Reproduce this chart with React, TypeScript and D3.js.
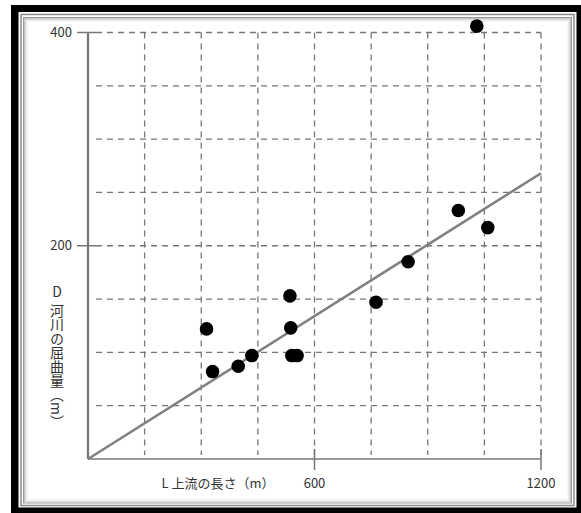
import React from "react";
import * as d3 from "d3";

// data
const lengthL = [314, 330, 398, 434, 535, 537, 540, 554, 763, 848, 981, 1059, 1030];
const meanderD = [122, 82, 87, 97, 153, 123, 97, 97, 147, 185, 233, 217, 406];
const fitEnd = [0, 0, 1200, 268];
const xTickLabels = [600, 1200];
const yTickLabels = [200, 400];
const xGrid = [150, 300, 450, 600, 750, 900, 1050, 1200];
const yGrid = [50, 100, 150, 200, 250, 300, 350, 400];

const W = 581;
const H = 513;
const font = "'Noto Sans CJK JP', 'Noto Sans', sans-serif";

export default function App() {
  const x = d3.scaleLinear().domain([0, 1200]).range([88, 541]);
  const y = d3.scaleLinear().domain([0, 400]).range([459, 32.5]);
  const points = lengthL.map((l, i) => ({ l, d: meanderD[i] }));
  const line = d3.line<[number, number]>()
    .x((d) => x(d[0]))
    .y((d) => y(d[1]));

  const grid = "#777";
  const txt = "#333";

  return (
    <svg
      width={W}
      height={H}
      style={{ position: "absolute", left: 0, top: 0, display: "block", background: "#fff" }}
    >
      {/* frame */}
      <rect x={11} y={5} width={580} height={520} fill="#000" />
      <rect x={18.5} y={12} width={558} height={495.5} fill="#fff" />
      <rect x={21} y={14.5} width={553} height={491} fill="none" stroke="#8a8a8a" strokeWidth={1.5} />
      <rect x={23.5} y={17.5} width={548} height={485.5} fill="#fff" stroke="#999" strokeWidth={1} />
      <rect x={24.5} y={18.5} width={546} height={483.5} fill="none" stroke="#c4c4c4" strokeWidth={1} />
      <rect x={25.5} y={19.5} width={544} height={481.5} fill="none" stroke="#dcdcdc" strokeWidth={1} />
      <rect x={26.5} y={20.5} width={542} height={479.5} fill="none" stroke="#ececec" strokeWidth={1} />
      <rect x={27.5} y={21.5} width={540} height={477.5} fill="none" stroke="#f6f6f6" strokeWidth={1} />

      {/* dashed grid */}
      <g stroke={grid} strokeWidth={1.3} strokeDasharray="6,5" fill="none">
        {yGrid.map((v) => (
          <line key={"h" + v} x1={x(0) + 8} x2={x(1200)} y1={y(v)} y2={y(v)} />
        ))}
        {xGrid.map((v) => (
          <line key={"v" + v} x1={x(v)} x2={x(v)} y1={y(400)} y2={y(0) - 4} />
        ))}
      </g>

      {/* axes */}
      <line x1={x(0)} x2={x(0)} y1={y(400)} y2={y(0)} stroke="#777" strokeWidth={2.2} />
      <line x1={x(0)} x2={x(1200)} y1={y(0)} y2={y(0)} stroke="#777" strokeWidth={1.6} />
      {yTickLabels.map((v) => (
        <g key={"yt" + v}>
          <line x1={x(0) - 11} x2={x(0) + 8} y1={y(v)} y2={y(v)} stroke="#777" strokeWidth={1.5} />
          <text x={72} y={y(v)} dy="0.35em" textAnchor="end" fontSize={13} fill={txt} fontFamily={font}>
            {v}
          </text>
        </g>
      ))}
      {xTickLabels.map((v) => (
        <g key={"xt" + v}>
          <line x1={x(v)} x2={x(v)} y1={y(0) - 10} y2={y(0) + 11} stroke="#777" strokeWidth={1.5} />
          <text x={x(v)} y={483} dy="0.35em" textAnchor="middle" fontSize={13} fill={txt} fontFamily={font}>
            {v}
          </text>
        </g>
      ))}

      {/* axis titles */}
      <text x={218} y={483} dy="0.35em" textAnchor="middle" fontSize={13} fill={txt} fontFamily={font}>
        L 上流の長さ（m）
      </text>
      <text x={57} y={292} dy="0.35em" textAnchor="middle" fontSize={14} fill={txt} fontFamily={font}>
        D
      </text>
      <text
        x={57}
        y={304}
        fontSize={14}
        fill={txt}
        fontFamily={font}
        style={{ writingMode: "vertical-rl" }}
      >
        河川の屈曲量（m）
      </text>

      {/* regression line */}
      <path
        d={line([[fitEnd[0], fitEnd[1]], [fitEnd[2], fitEnd[3]]]) || ""}
        stroke="#808080"
        strokeWidth={2.6}
        fill="none"
      />

      {/* points */}
      {points.map((p, i) => (
        <circle key={i} cx={x(p.l)} cy={y(p.d)} r={6.8} fill="#000" />
      ))}
    </svg>
  );
}
